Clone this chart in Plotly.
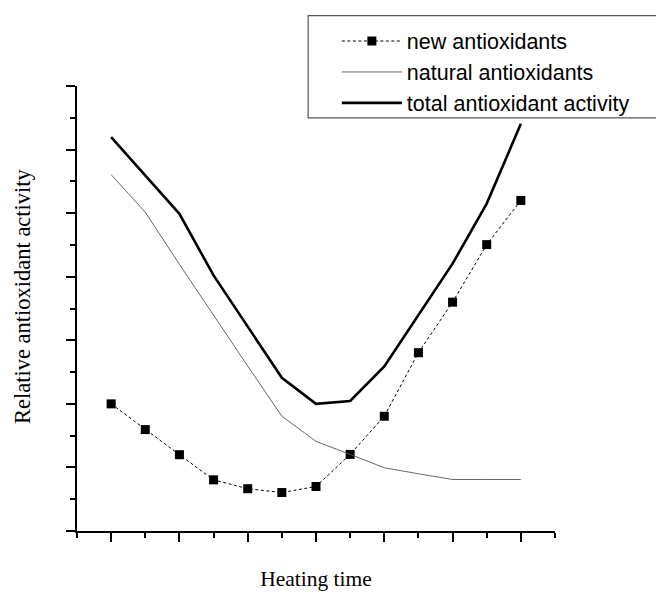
import plotly.graph_objects as go

# Heating time steps (arbitrary units) and relative activity readings
heating_step = list(range(13))
new_antioxidants = [4.00, 3.19, 2.40, 1.61, 1.33, 1.21, 1.40, 2.41, 3.61, 5.61, 7.20, 9.01, 10.40]
natural_antioxidants = [11.21, 10.03, 8.39, 6.78, 5.19, 3.61, 2.82, 2.41, 1.99, 1.80, 1.62, 1.62, 1.62]
total_activity = [12.39, 11.19, 9.98, 8.04, 6.44, 4.82, 4.00, 4.09, 5.18, 6.78, 8.41, 10.30, 12.81]

series_names = ["new antioxidants", "natural antioxidants", "total antioxidant activity"]
x_title = "Heating time"
y_title = "Relative antioxidant activity"

W, H = 656, 598
ML, MR, MT, MB = 77.3, 101, 85.5, 67.3
plot_w = W - ML - MR
plot_h = H - MT - MB


def px_x(px):
    return (px - ML) / plot_w


def px_y(px):
    return (H - MB - px) / plot_h


fig = go.Figure()
fig.add_trace(go.Scatter(
    x=heating_step, y=new_antioxidants, name=series_names[0],
    mode="lines+markers",
    line=dict(color="black", width=1, dash="3px,2.5px"),
    marker=dict(symbol="square", size=9, color="black"),
))
fig.add_trace(go.Scatter(
    x=heating_step, y=natural_antioxidants, name=series_names[1],
    mode="lines",
    line=dict(color="#555555", width=0.9),
))
fig.add_trace(go.Scatter(
    x=heating_step, y=total_activity, name=series_names[2],
    mode="lines",
    line=dict(color="black", width=2.6),
))

serif = "Times New Roman, Liberation Serif, serif"
sans = "Arial, Liberation Sans, sans-serif"

axis_common = dict(
    showline=True, linecolor="black", linewidth=1.5,
    showgrid=False, zeroline=False, showticklabels=False,
    ticks="outside", ticklen=9, tickwidth=1.5, tickcolor="black",
    mirror=False,
)

fig.update_xaxes(
    range=[-1, 13], tick0=0, dtick=2,
    minor=dict(ticks="outside", ticklen=5, tickwidth=1.5, tickcolor="black", dtick=1, tick0=-1),
    title=dict(text=x_title, font=dict(family=serif, size=21.5, color="black"), standoff=30),
    **axis_common,
)
fig.update_yaxes(
    range=[0, 14], tick0=0, dtick=2,
    minor=dict(ticks="outside", ticklen=5, tickwidth=1.5, tickcolor="black", dtick=1, tick0=1),
    **axis_common,
)

# Vertical axis caption, sitting a little above the axis midpoint
fig.add_annotation(
    text=y_title, textangle=-90, showarrow=False,
    xref="paper", yref="paper", x=px_x(23), y=px_y(296),
    xanchor="center", yanchor="middle",
    font=dict(family=serif, size=22.5, color="black"),
)

# Legend frame, running off the right edge of the page
box_left_px, box_top_px, box_bottom_px = 308.3, 15, 117.3
fig.add_shape(
    type="rect", xref="paper", yref="paper",
    x0=px_x(box_left_px), x1=px_x(W + 10),
    y0=px_y(box_bottom_px), y1=px_y(box_top_px),
    line=dict(color="#555555", width=1.2), fillcolor="rgba(0,0,0,0)",
)

fig.update_layout(
    width=W, height=H,
    margin=dict(l=ML, r=MR, t=MT, b=MB),
    paper_bgcolor="white", plot_bgcolor="white",
    showlegend=True,
    legend=dict(
        x=px_x(337), y=px_y(20),
        xanchor="left", yanchor="top",
        font=dict(family=sans, size=21.5, color="black"),
        itemwidth=60, tracegroupgap=0,
        bgcolor="rgba(0,0,0,0)", borderwidth=0,
    ),
)

fig.write_html("out.html")
